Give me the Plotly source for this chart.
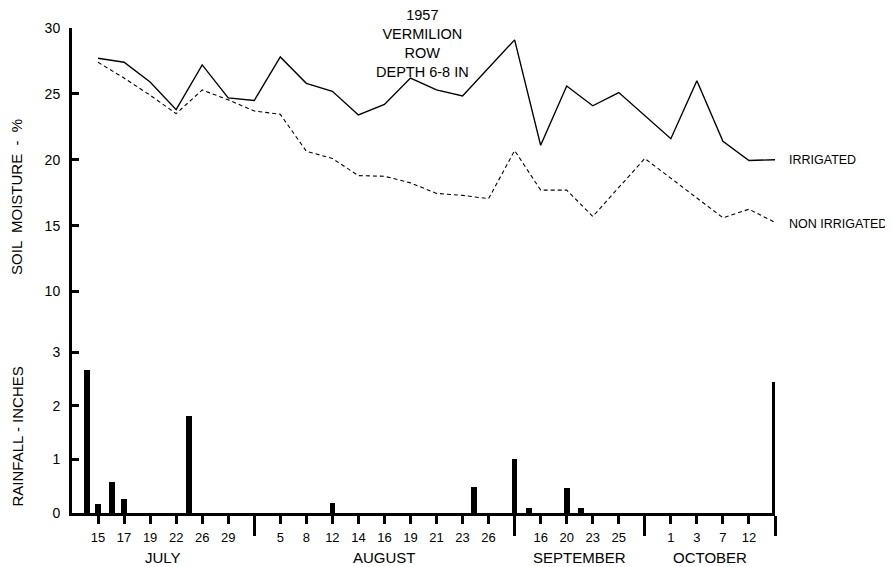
import plotly.graph_objects as go

# ---- data (x = position slot along the uneven date axis) ----
tick_slots = [0, 1, 2, 3, 4, 5, 7, 8, 9, 10, 11, 12, 13, 14, 15, 17, 18, 19, 20, 22, 23, 24, 25]
tick_labels = ["15", "17", "19", "22", "26", "29",
               "5", "8", "12", "14", "16", "19", "21", "23", "26",
               "16", "20", "23", "25",
               "1", "3", "7", "12"]
month_bounds = [-1, 6, 16, 21, 26]
month_names = ["JULY", "AUGUST", "SEPTEMBER", "OCTOBER"]

irr_x = [0, 1, 2, 3, 4, 5, 6, 7, 8, 9, 10, 11, 12, 13, 14, 16, 17, 18, 19, 20, 22, 23, 24, 25, 26]
irr_y = [27.7, 27.4, 25.9, 23.8, 27.2, 24.7, 24.5, 27.8, 25.8, 25.2, 23.4, 24.2, 26.2, 25.3, 24.85,
         29.1, 21.1, 25.6, 24.1, 25.1, 21.6, 26.0, 21.4, 19.95, 20.0]

non_x = [0, 1, 2, 3, 4, 5, 6, 7, 8, 9, 10, 11, 12, 13, 14, 15, 16, 17, 18, 19, 21, 24, 25, 26]
non_y = [27.4, 26.2, 24.9, 23.5, 25.3, 24.55, 23.7, 23.45, 20.65, 20.1, 18.8, 18.75, 18.25, 17.45, 17.3, 17.05,
         20.7, 17.7, 17.7, 15.7, 20.1, 15.6, 16.25, 15.25]

rain_x = [-0.42, 0, 0.55, 1, 3.5, 9, 14.45, 16, 16.55, 18, 18.55, 26]
rain_y = [2.67, 0.17, 0.58, 0.25, 1.8, 0.18, 0.48, 1.0, 0.09, 0.46, 0.1, 2.45]

moist_ticks = [10, 15, 20, 25, 30]
rain_ticks = [0, 1, 2, 3]

FONT = "Liberation Sans"

fig = go.Figure()
fig.add_trace(go.Scatter(x=irr_x, y=irr_y, mode="lines", xaxis="x", yaxis="y",
                         line=dict(color="black", width=1.4), name="IRRIGATED"))
fig.add_trace(go.Scatter(x=non_x, y=non_y, mode="lines", xaxis="x", yaxis="y",
                         line=dict(color="black", width=1.1, dash="4px,3px"), name="NON IRRIGATED"))
fig.add_trace(go.Bar(x=rain_x, y=rain_y, xaxis="x", yaxis="y2", width=0.22,
                     marker=dict(color="black", line=dict(width=0)), name="Rainfall"))

ann = []
for i, m in enumerate(month_names):
    ann.append(dict(x=(month_bounds[i] + month_bounds[i + 1]) / 2, xref="x",
                    y=0, yref="paper", yshift=-44, text=m, showarrow=False,
                    font=dict(size=15, family=FONT, color="black"), yanchor="middle"))
ann.append(dict(x=irr_x[-1], xref="x", y=irr_y[-1], yref="y", xshift=12, text="IRRIGATED",
                showarrow=False, xanchor="left", font=dict(size=12.5, family=FONT, color="black")))
ann.append(dict(x=non_x[-1], xref="x", y=non_y[-1], yref="y", xshift=12, yshift=-2, text="NON IRRIGATED",
                showarrow=False, xanchor="left", font=dict(size=12.5, family=FONT, color="black")))
ann.append(dict(x=-0.078, xref="paper", y=0.652, yref="paper", text="SOIL  MOISTURE  -  %",
                textangle=-90, showarrow=False, xanchor="center", yanchor="middle",
                font=dict(size=15, family=FONT, color="black")))
ann.append(dict(x=-0.078, xref="paper", y=0.158, yref="paper", text="RAINFALL - INCHES",
                textangle=-90, showarrow=False, xanchor="center", yanchor="middle",
                font=dict(size=15, family=FONT, color="black")))
ann.append(dict(x=12.45, xref="x", y=1, yref="paper", yshift=22, yanchor="top",
                text="1957<br>VERMILION<br>ROW<br>DEPTH 6-8 IN", showarrow=False, borderpad=0,
                font=dict(size=14.5, family=FONT, color="black"), align="center"))

fig.update_layout(
    width=885, height=559,
    margin=dict(l=64, r=118, t=17, b=54),
    paper_bgcolor="white", plot_bgcolor="white",
    showlegend=False,
    font=dict(family=FONT, size=13, color="black"),
    annotations=ann,
    xaxis=dict(range=[-1, 26], anchor="y2", showline=True, linecolor="black", linewidth=2.5,
               tickmode="array", tickvals=tick_slots, ticktext=tick_labels,
               ticks="outside", ticklen=8, tickwidth=2.5, tickcolor="black",
               showgrid=False, zeroline=False, tickfont=dict(size=13), ticklabelstandoff=3,
               minor=dict(tickmode="array", tickvals=month_bounds[1:], ticks="outside",
                          ticklen=20, tickwidth=2.5, tickcolor="black", showgrid=False)),
    yaxis=dict(domain=[0.375, 1], range=[7, 30], showline=True, linecolor="black", linewidth=3,
               tickmode="array", tickvals=moist_ticks, ticks="inside", ticklen=7, tickwidth=2.5,
               tickcolor="black", showgrid=False, zeroline=False, ticklabelstandoff=6,
               tickfont=dict(size=14)),
    yaxis2=dict(domain=[0, 0.375], range=[0, 3.395], showline=True, linecolor="black", linewidth=3,
                tickmode="array", tickvals=rain_ticks, ticks="inside", ticklen=7, tickwidth=2.5,
                tickcolor="black", showgrid=False, zeroline=False, ticklabelstandoff=6,
                tickfont=dict(size=14)),
    bargap=0,
)

fig.write_html("out.html")
